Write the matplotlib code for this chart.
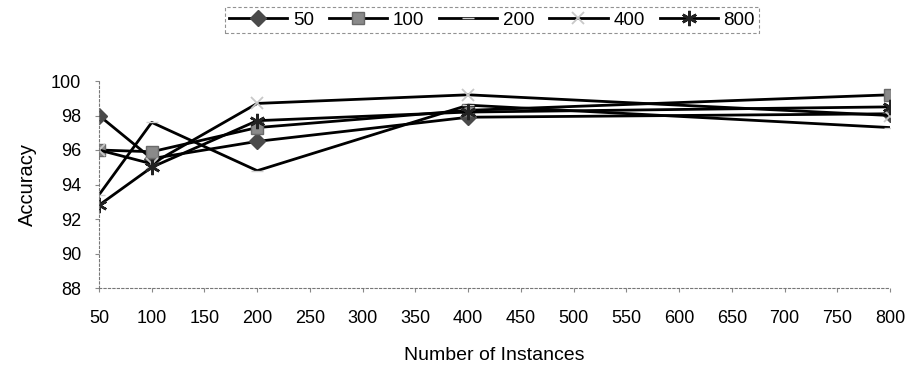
import numpy as np
import matplotlib.pyplot as plt

plt.rcParams['font.family'] = ['Liberation Sans', 'DejaVu Sans']

# training-set sizes on the x axis, one accuracy series per setting
instances = [50, 100, 200, 400, 800]
series_names = ['50', '100', '200', '400', '800']
acc_50 = [98.0, 95.5, 96.5, 97.9, 98.1]
acc_100 = [96.0, 95.9, 97.3, 98.3, 99.2]
acc_200 = [93.4, 97.6, 94.8, 98.6, 97.3]
acc_400 = [96.0, 95.2, 98.7, 99.2, 98.0]
acc_800 = [92.8, 95.0, 97.7, 98.2, 98.5]

styles = [
    dict(marker='D', ms=8, mfc='#4a4a4a', mec='#4a4a4a'),
    dict(marker='s', ms=8, mfc='#8a8a8a', mec='#6a6a6a'),
    dict(marker='_', ms=8, mfc='#cfcfcf', mec='#cfcfcf', mew=1),
    dict(marker='x', ms=9, mfc='#c8c8c8', mec='#c8c8c8', mew=1.3),
    dict(marker=(6, 2, 0), ms=11, mfc='#222222', mec='#222222', mew=1.8),
]

fig = plt.figure(figsize=(9.12, 3.73), dpi=100)
ax = fig.add_axes([99 / 912, 1 - 288 / 373, 791 / 912, 207 / 373])

for vals, name, st in zip([acc_50, acc_100, acc_200, acc_400, acc_800], series_names, styles):
    ax.plot(instances, vals, color='black', lw=2, label=name, **st)

ax.set_xlim(50, 800)
ax.set_ylim(88, 100)
ax.set_xticks(np.arange(50, 801, 50))
ax.set_yticks(np.arange(88, 101, 2))
ax.tick_params(labelsize=13, length=3, color='#888888', width=0.8)
ax.tick_params(axis='y', pad=10)
ax.tick_params(axis='x', pad=13)

for side in ['top', 'right']:
    ax.spines[side].set_visible(False)
for side in ['left', 'bottom']:
    ax.spines[side].set_color('#777777')
    ax.spines[side].set_linestyle((0, (2, 2)))
    ax.spines[side].set_linewidth(0.8)

ax.set_xlabel('Number of Instances', fontsize=14, labelpad=14)
ax.set_ylabel('Accuracy', fontsize=14.5, labelpad=10)

leg = fig.legend(loc='center', bbox_to_anchor=(492 / 912, 1 - 20 / 373), ncol=5,
                 fontsize=13.5, frameon=True, fancybox=False, handlelength=3.1,
                 handletextpad=0.3, columnspacing=0.8, borderpad=0.25)
leg.get_frame().set_edgecolor('#777777')
leg.get_frame().set_linestyle((0, (3, 2)))
leg.get_frame().set_linewidth(0.8)

fig.savefig('out.png', dpi=100)
